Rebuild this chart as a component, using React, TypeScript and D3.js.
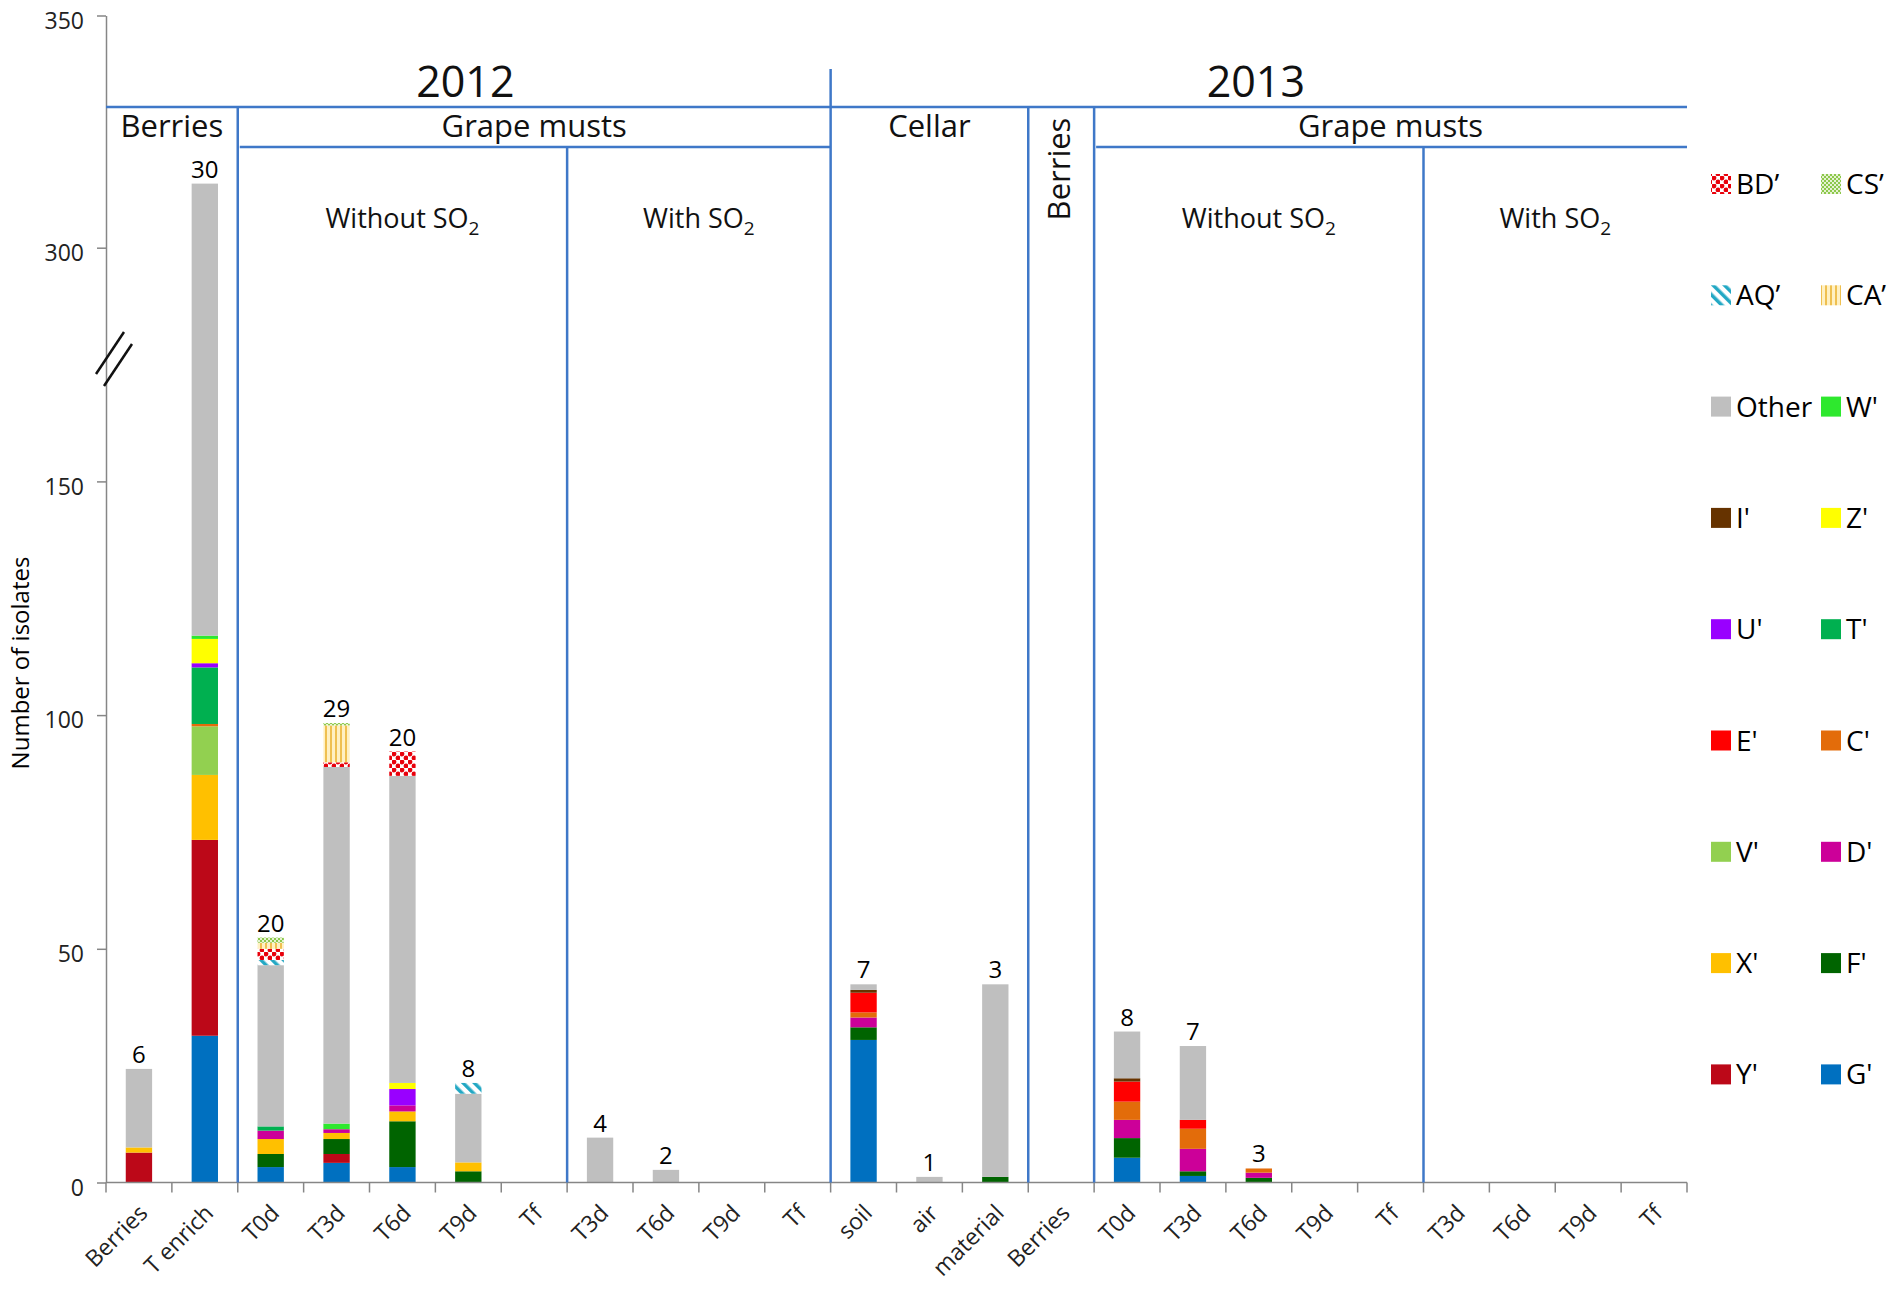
import React, { useEffect, useRef } from "react"
import * as d3 from "d3"

const WIDTH = 1900
const HEIGHT = 1294
const PLOT = { left: 106, right: 1687, top: 15.5, bottom: 1182.5 }
const FONT = "'Open Sans', 'Liberation Sans', sans-serif"

const categories = [
    "Berries", "T enrich", "T0d", "T3d", "T6d", "T9d", "Tf",
    "T3d", "T6d", "T9d", "Tf",
    "soil", "air", "material",
    "Berries", "T0d", "T3d", "T6d", "T9d", "Tf",
    "T3d", "T6d", "T9d", "Tf",
]

// stacked from the bottom up
const seriesKeys = ["G'", "Y'", "F'", "X'", "D'", "V'", "C'", "E'", "T'", "U'", "Z'", "I'", "W'", "Other", "AQ’", "BD’", "CA’", "CS’"]

const gValues = [0, 31.4, 3.3, 4.2, 3.3, 0, 0, 0, 0, 0, 0, 30.5, 0, 0, 0, 5.3, 1.4, 0, 0, 0, 0, 0, 0, 0]
const yValues = [6.4, 41.9, 0, 1.9, 0, 0, 0, 0, 0, 0, 0, 0, 0, 0, 0, 0, 0, 0, 0, 0, 0, 0, 0, 0]
const fValues = [0, 0, 2.8, 3.2, 9.8, 2.4, 0, 0, 0, 0, 0, 2.7, 0, 1.2, 0, 4.2, 1.0, 1.0, 0, 0, 0, 0, 0, 0]
const xValues = [1.1, 13.9, 3.2, 1.3, 2.1, 1.9, 0, 0, 0, 0, 0, 0, 0, 0, 0, 0, 0, 0, 0, 0, 0, 0, 0, 0]
const dValues = [0, 0, 1.8, 0.8, 1.3, 0, 0, 0, 0, 0, 0, 2.1, 0, 0, 0, 3.9, 4.8, 1.1, 0, 0, 0, 0, 0, 0]
const vValues = [0, 10.4, 0, 0, 0, 0, 0, 0, 0, 0, 0, 0, 0, 0, 0, 0, 0, 0, 0, 0, 0, 0, 0, 0]
const cValues = [0, 0.5, 0, 0, 0, 0, 0, 0, 0, 0, 0, 1.1, 0, 0, 0, 3.9, 4.3, 0.9, 0, 0, 0, 0, 0, 0]
const eValues = [0, 0, 0, 0, 0, 0, 0, 0, 0, 0, 0, 4.2, 0, 0, 0, 4.3, 1.9, 0, 0, 0, 0, 0, 0, 0]
const tValues = [0, 12.1, 0.9, 0, 0, 0, 0, 0, 0, 0, 0, 0, 0, 0, 0, 0, 0, 0, 0, 0, 0, 0, 0, 0]
const uValues = [0, 0.9, 0, 0, 3.5, 0, 0, 0, 0, 0, 0, 0, 0, 0, 0, 0, 0, 0, 0, 0, 0, 0, 0, 0]
const zValues = [0, 5.2, 0, 0, 1.3, 0, 0, 0, 0, 0, 0, 0, 0, 0, 0, 0, 0, 0, 0, 0, 0, 0, 0, 0]
const iValues = [0, 0, 0, 0, 0, 0, 0, 0, 0, 0, 0, 0.6, 0, 0, 0, 0.7, 0, 0, 0, 0, 0, 0, 0, 0]
const wValues = [0, 0.7, 0, 1.2, 0, 0, 0, 0, 0, 0, 0, 0, 0, 0, 0, 0, 0, 0, 0, 0, 0, 0, 0, 0]
const otherValues = [16.8, 196.8, 34.5, 76.3, 65.7, 14.7, 0, 9.6, 2.7, 0, 0, 1.2, 1.2, 41.2, 0, 10.0, 15.8, 0, 0, 0, 0, 0, 0, 0]
const aqValues = [0, 0, 1.1, 0, 0, 2.3, 0, 0, 0, 0, 0, 0, 0, 0, 0, 0, 0, 0, 0, 0, 0, 0, 0, 0]
const bdValues = [0, 0, 2.4, 1.0, 5.2, 0, 0, 0, 0, 0, 0, 0, 0, 0, 0, 0, 0, 0, 0, 0, 0, 0, 0, 0]
const caValues = [0, 0, 1.3, 7.9, 0, 0, 0, 0, 0, 0, 0, 0, 0, 0, 0, 0, 0, 0, 0, 0, 0, 0, 0, 0]
const csValues = [0, 0, 1.1, 0.5, 0, 0, 0, 0, 0, 0, 0, 0, 0, 0, 0, 0, 0, 0, 0, 0, 0, 0, 0, 0]

// number of strains written above each bar
const strainCounts = ["6", "30", "20", "29", "20", "8", "", "4", "2", "", "", "7", "1", "3", "", "8", "7", "3", "", "", "", "", "", ""]

const yTicks = [0, 50, 100, 150, 300, 350]

// legend, row by row
const legendRows = [
    ["BD’", "CS’"],
    ["AQ’", "CA’"],
    ["Other", "W'"],
    ["I'", "Z'"],
    ["U'", "T'"],
    ["E'", "C'"],
    ["V'", "D'"],
    ["X'", "F'"],
    ["Y'", "G'"],
]

// header spans, in category indices
const years = [
    { label: "2012", from: 0, to: 11 },
    { label: "2013", from: 11, to: 24 },
]
const sources = [
    { label: "Berries", from: 0, to: 2, vertical: false },
    { label: "Grape musts", from: 2, to: 11, vertical: false },
    { label: "Cellar", from: 11, to: 14, vertical: false },
    { label: "Berries", from: 14, to: 15, vertical: true },
    { label: "Grape musts", from: 15, to: 24, vertical: false },
]
const treatments = [
    { label: "Without SO", from: 2, to: 7 },
    { label: "With SO", from: 7, to: 11 },
    { label: "Without SO", from: 15, to: 20 },
    { label: "With SO", from: 20, to: 24 },
]

const colors: Record<string, string> = {
    "G'": "#0070C0",
    "Y'": "#BC0818",
    "F'": "#006400",
    "X'": "#FFC000",
    "D'": "#CC0099",
    "V'": "#92D050",
    "C'": "#E36C0A",
    "E'": "#FF0000",
    "T'": "#00B050",
    "U'": "#9900FF",
    "Z'": "#FFFF00",
    "I'": "#663300",
    "W'": "#2EE82E",
    "Other": "#BFBFBF",
    "AQ’": "url(#pat-aq)",
    "BD’": "url(#pat-bd)",
    "CA’": "url(#pat-ca)",
    "CS’": "url(#pat-cs)",
}

const seriesValues = [gValues, yValues, fValues, xValues, dValues, vValues, cValues, eValues, tValues, uValues, zValues, iValues, wValues, otherValues, aqValues, bdValues, caValues, csValues]

const App: React.FC = () => {
    const svgRef = useRef<SVGSVGElement | null>(null)

    useEffect(() => {
        if (!svgRef.current) return
        const svg = d3.select(svgRef.current)
        svg.selectAll("*").remove()

        // patterns for the hatched series
        const defs = svg.append("defs")
        const bd = defs.append("pattern").attr("id", "pat-bd").attr("patternUnits", "userSpaceOnUse")
            .attr("width", 8).attr("height", 8)
        bd.append("rect").attr("width", 8).attr("height", 8).attr("fill", "#fff")
        bd.append("circle").attr("cx", 2).attr("cy", 2).attr("r", 2.4).attr("fill", "#E8000B")
        bd.append("circle").attr("cx", 6).attr("cy", 6).attr("r", 2.4).attr("fill", "#E8000B")

        const cs = defs.append("pattern").attr("id", "pat-cs").attr("patternUnits", "userSpaceOnUse")
            .attr("width", 4).attr("height", 4)
        cs.append("rect").attr("width", 4).attr("height", 4).attr("fill", "#E6F2D2")
        cs.append("rect").attr("width", 2).attr("height", 2).attr("fill", "#8CC84B")
        cs.append("rect").attr("x", 2).attr("y", 2).attr("width", 2).attr("height", 2).attr("fill", "#8CC84B")

        const aq = defs.append("pattern").attr("id", "pat-aq").attr("patternUnits", "userSpaceOnUse")
            .attr("width", 8).attr("height", 8).attr("patternTransform", "rotate(-45)")
        aq.append("rect").attr("width", 8).attr("height", 8).attr("fill", "#fff")
        aq.append("rect").attr("width", 3.5).attr("height", 8).attr("fill", "#23A8C4")

        const ca = defs.append("pattern").attr("id", "pat-ca").attr("patternUnits", "userSpaceOnUse")
            .attr("width", 5).attr("height", 5)
        ca.append("rect").attr("width", 5).attr("height", 5).attr("fill", "#FFF0C2")
        ca.append("rect").attr("width", 2).attr("height", 5).attr("fill", "#EFC050")

        const step = (PLOT.right - PLOT.left) / categories.length
        const boundary = (i: number) => PLOT.left + i * step

        const x = d3
            .scaleBand<number>()
            .domain(d3.range(categories.length))
            .range([PLOT.left, PLOT.right])
            .paddingInner(0.6)
            .paddingOuter(0.3)

        // broken axis: 150 to 300 squeezed into one 50 step
        const y = d3
            .scaleLinear()
            .domain([0, 150, 300, 350])
            .range([PLOT.bottom, PLOT.bottom - 150 * 4.674, PLOT.bottom - 200 * 4.674, PLOT.top])

        const rows = categories.map((_, i) => {
            const row: Record<string, number> = { index: i }
            seriesKeys.forEach((k, s) => (row[k] = seriesValues[s][i]))
            return row
        })
        const stacked = d3.stack<Record<string, number>>().keys(seriesKeys)(rows)

        const bars = svg.append("g")
        stacked.forEach(layer => {
            bars.append("g")
                .attr("fill", colors[layer.key])
                .selectAll("rect")
                .data(layer.filter(d => d[1] - d[0] > 0))
                .enter()
                .append("rect")
                .attr("x", d => x(d.data.index)!)
                .attr("width", x.bandwidth())
                .attr("y", d => y(d[1]))
                .attr("height", d => y(d[0]) - y(d[1]))
        })

        // strain counts
        const tops = categories.map((_, i) => d3.sum(seriesValues, v => v[i]))
        svg.append("g")
            .selectAll("text")
            .data(strainCounts)
            .enter()
            .append("text")
            .attr("x", (_, i) => x(i)! + x.bandwidth() / 2)
            .attr("y", (_, i) => y(tops[i]) - 6)
            .attr("text-anchor", "middle")
            .style("font-family", FONT)
            .style("font-size", "24px")
            .text(d => d)

        // y axis
        const yAxis = svg.append("g")
            .attr("transform", `translate(${PLOT.left},0)`)
            .call(d3.axisLeft(y).tickValues(yTicks).tickSize(9).tickSizeOuter(0).tickPadding(13))
        yAxis.selectAll("path, line").attr("stroke", "#868686").attr("stroke-width", 1.5)
        yAxis.selectAll("text")
            .attr("dy", "0.55em")
            .style("font-family", FONT)
            .style("font-size", "23px")
            .attr("fill", "#222")

        // break marks
        const brk = svg.append("g").attr("stroke", "#111").attr("stroke-width", 2.5)
        brk.append("line").attr("x1", 96).attr("y1", 374).attr("x2", 124).attr("y2", 332)
        brk.append("line").attr("x1", 104).attr("y1", 386).attr("x2", 132).attr("y2", 344)

        // x axis
        const xAxis = svg.append("g").attr("stroke", "#868686").attr("stroke-width", 1.5)
        xAxis.append("line")
            .attr("x1", PLOT.left).attr("x2", PLOT.right)
            .attr("y1", PLOT.bottom).attr("y2", PLOT.bottom)
        xAxis.selectAll("line.tick")
            .data(d3.range(categories.length + 1))
            .enter()
            .append("line")
            .attr("class", "tick")
            .attr("x1", d => boundary(d)).attr("x2", d => boundary(d))
            .attr("y1", PLOT.bottom).attr("y2", PLOT.bottom + 10)

        svg.append("g")
            .selectAll("text")
            .data(categories)
            .enter()
            .append("text")
            .attr("transform", (_, i) => `translate(${x(i)! + x.bandwidth() / 2 + 10},${PLOT.bottom + 32}) rotate(-45)`)
            .attr("text-anchor", "end")
            .style("font-family", FONT)
            .style("font-size", "23px")
            .attr("fill", "#222")
            .text(d => d)

        svg.append("text")
            .attr("transform", `translate(29,663) rotate(-90)`)
            .attr("text-anchor", "middle")
            .style("font-family", FONT)
            .style("font-size", "24px")
            .text("Number of isolates")

        // header frame
        const blue = "#3F78C8"
        const LINE1 = 107
        const LINE2 = 147
        const frame = svg.append("g").attr("stroke", blue).attr("stroke-width", 2.5)
        frame.append("line").attr("x1", PLOT.left).attr("x2", PLOT.right).attr("y1", LINE1).attr("y2", LINE1)
        frame.append("line").attr("x1", boundary(11)).attr("x2", boundary(11)).attr("y1", 69).attr("y2", PLOT.bottom)
        ;[2, 14, 15].forEach(b => {
            frame.append("line").attr("x1", boundary(b)).attr("x2", boundary(b)).attr("y1", LINE1).attr("y2", PLOT.bottom)
        })
        ;[[2, 11], [15, 24]].forEach(([a, b]) => {
            frame.append("line").attr("x1", boundary(a) + 2).attr("x2", boundary(b)).attr("y1", LINE2).attr("y2", LINE2)
        })
        ;[7, 20].forEach(b => {
            frame.append("line").attr("x1", boundary(b)).attr("x2", boundary(b)).attr("y1", LINE2).attr("y2", PLOT.bottom)
        })

        const header = svg.append("g").style("font-family", FONT).attr("fill", "#111").attr("text-anchor", "middle")
        years.forEach(d => {
            header.append("text")
                .attr("x", (boundary(d.from) + boundary(d.to)) / 2 - 3)
                .attr("y", 97)
                .style("font-size", "43px")
                .text(d.label)
        })
        sources.forEach(d => {
            const cx = (boundary(d.from) + boundary(d.to)) / 2
            const t = header.append("text").style("font-size", "31px").text(d.label)
            if (d.vertical) t.attr("transform", `translate(${cx + 9},169) rotate(-90)`)
            else t.attr("x", cx).attr("y", 137)
        })
        treatments.forEach(d => {
            const t = header.append("text")
                .attr("x", (boundary(d.from) + boundary(d.to)) / 2)
                .attr("y", 228)
                .style("font-size", "27px")
            t.append("tspan").text(d.label)
            t.append("tspan").attr("dy", 7).style("font-size", "19px").text("2")
        })

        // legend
        const legend = svg.append("g").style("font-family", FONT).style("font-size", "28px")
        legendRows.forEach((row, r) => {
            row.forEach((key, c) => {
                const lx = 1711 + c * 110
                const ly = 184 + r * 111.3
                legend.append("rect")
                    .attr("x", lx).attr("y", ly - 10)
                    .attr("width", 20).attr("height", 20)
                    .attr("fill", colors[key])
                legend.append("text")
                    .attr("x", lx + 25).attr("y", ly + 10)
                    .text(key)
            })
        })
    }, [])

    return (
        <svg
            ref={svgRef}
            width={WIDTH}
            height={HEIGHT}
            style={{ position: "absolute", left: 0, top: 0, background: "#fff" }}
        />
    )
}

export default App
